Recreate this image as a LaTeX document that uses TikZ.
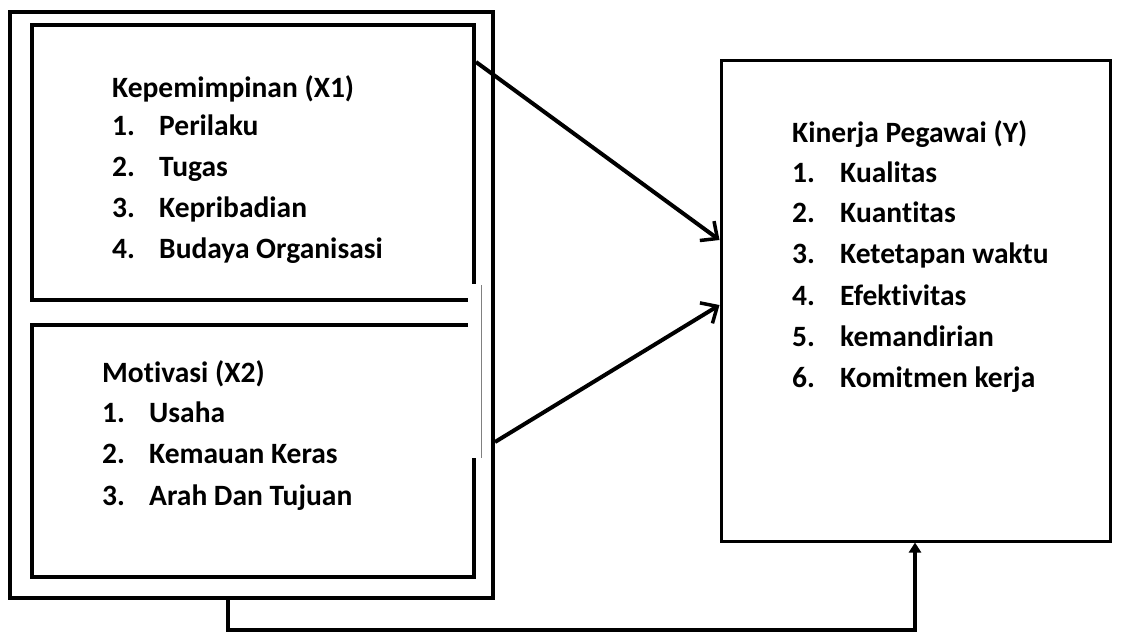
\documentclass[tikz,border=0pt]{standalone}
\usepackage{fontspec}
\setmainfont[Ligatures=NoCommon]{Carlito}
\usetikzlibrary{arrows.meta}
\begin{document}
\begin{tikzpicture}[x=1pt,y=-1pt,
  box/.style={draw=black,line width=#1,rectangle,inner sep=0pt,fill=none},
  txt/.style={anchor=base west,inner sep=0pt,font=\fontsize{29.5}{32}\selectfont\bfseries},
  conn/.style={line width=4pt,-{Straight Barb[length=13pt,width=24pt,line width=3.5pt]}},
  connb/.style={line width=3.5pt,-{Triangle[length=10pt,width=12pt]}}]
\useasboundingbox (0,0) rectangle (1124,633);
\fill[white] (0,0) rectangle (1124,633);
% boxes
\node[box=4pt,minimum width=483pt,minimum height=586pt] (outer) at (251.5,305) {};
\node[box=4pt,minimum width=442pt,minimum height=275pt] (x1) at (253,162.5) {};
\node[box=4pt,minimum width=442pt,minimum height=252pt] (x2) at (253,451) {};
\node[box=3pt,minimum width=389pt,minimum height=481pt] (y) at (915.5,300.5) {};
% gap in inner right edges
\fill[white] (468,284) rectangle (487.5,458);
\draw[gray,line width=0.8pt] (481,285) -- (481,458);
% X1 text
\node[txt] (t1) at (112,97) {Kepemimpinan (X1)};
\node[txt] (t1n1) at (112,135) {1.};\node[txt] (t1i1) at (159,135) {Perilaku};
\node[txt] (t1n2) at (112,176.5) {2.};\node[txt] (t1i2) at (159,176.5) {Tugas};
\node[txt] (t1n3) at (112,217) {3.};\node[txt] (t1i3) at (159,217) {Kepribadian};
\node[txt] (t1n4) at (112,258) {4.};\node[txt] (t1i4) at (159,258) {Budaya Organisasi};
% X2 text
\node[txt] (t2) at (102,382) {Motivasi (X2)};
\node[txt] (t2n1) at (102,422) {1.};\node[txt] (t2i1) at (149,422) {Usaha};
\node[txt] (t2n2) at (102,463) {2.};\node[txt] (t2i2) at (149,463) {Kemauan Keras};
\node[txt] (t2n3) at (102,505) {3.};\node[txt] (t2i3) at (149,505) {Arah Dan Tujuan};
% Y text
\node[txt] (ty) at (792,142) {Kinerja Pegawai (Y)};
\node[txt] (tyn1) at (792,182) {1.};\node[txt] (tyi1) at (840,182) {Kualitas};
\node[txt] (tyn2) at (792,222) {2.};\node[txt] (tyi2) at (840,222) {Kuantitas};
\node[txt] (tyn3) at (792,263) {3.};\node[txt] (tyi3) at (840,263) {Ketetapan waktu};
\node[txt] (tyn4) at (792,305) {4.};\node[txt] (tyi4) at (840,305) {Efektivitas};
\node[txt] (tyn5) at (792,346.5) {5.};\node[txt] (tyi5) at (840,346.5) {kemandirian};
\node[txt] (tyn6) at (792,387) {6.};\node[txt] (tyi6) at (840,387) {Komitmen kerja};
% connector end points
\coordinate (a1s) at (x1.north east |- 0,62);
\coordinate (a1e) at (y.west |- 0,240);
\coordinate (a2s) at (outer.east |- 0,442);
\coordinate (a2e) at (y.west |- 0,305);
\coordinate (a3s) at (228,0 |- outer.south);
\coordinate (a3e) at (915,0 |- y.south);
\draw[conn] (a1s) -- (a1e);
\draw[conn] (a2s) -- (a2e);
\draw[connb] (a3s) -- (a3s |- 0,630) -- (a3e |- 0,630) -- (a3e);
\end{tikzpicture}
\end{document}
